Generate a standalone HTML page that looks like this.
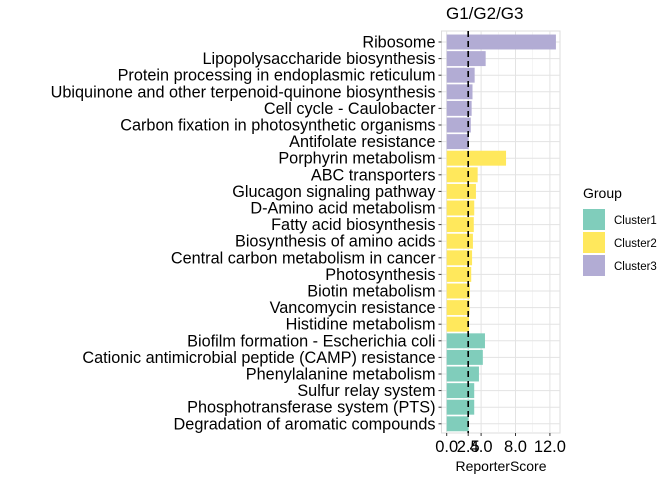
<!DOCTYPE html>
<html><head><meta charset="utf-8"><style>
body{margin:0;background:#fff;font-family:"Liberation Sans",sans-serif}
</style></head><body>
<svg width="672" height="480" xmlns="http://www.w3.org/2000/svg" font-family="Liberation Sans, sans-serif">
<g id="grid"></g>
<g id="bars"></g>
<g id="labels"></g>
<g id="xt"></g>
<text x="446" y="19" font-size="17" fill="#000">G1/G2/G3</text>
<text x="501" y="471" font-size="14" text-anchor="middle" fill="#000">ReporterScore</text>
<g>
<text x="583" y="198" font-size="14">Group</text>
<rect x="583" y="209" width="22" height="21" fill="#80cdbb"/>
<rect x="583" y="232" width="22" height="21" fill="#ffe85c"/>
<rect x="583" y="255" width="22" height="21" fill="#b2acd4"/>
<text x="614" y="224" font-size="11.5">Cluster1</text>
<text x="614" y="247" font-size="11.5">Cluster2</text>
<text x="614" y="270" font-size="11.5">Cluster3</text>
</g>
</svg>
<script>
const categories=["Ribosome","Lipopolysaccharide biosynthesis","Protein processing in endoplasmic reticulum","Ubiquinone and other terpenoid-quinone biosynthesis","Cell cycle - Caulobacter","Carbon fixation in photosynthetic organisms","Antifolate resistance","Porphyrin metabolism","ABC transporters","Glucagon signaling pathway","D-Amino acid metabolism","Fatty acid biosynthesis","Biosynthesis of amino acids","Central carbon metabolism in cancer","Photosynthesis","Biotin metabolism","Vancomycin resistance","Histidine metabolism","Biofilm formation - Escherichia coli","Cationic antimicrobial peptide (CAMP) resistance","Phenylalanine metabolism","Sulfur relay system","Phosphotransferase system (PTS)","Degradation of aromatic compounds"];
const values=[12.7,4.53,3.25,3.0,2.9,2.8,2.55,6.9,3.6,3.4,3.2,3.15,3.05,2.95,2.85,2.7,2.65,2.6,4.45,4.2,3.75,3.2,3.2,2.55];
const groups=["Cluster3","Cluster3","Cluster3","Cluster3","Cluster3","Cluster3","Cluster3","Cluster2","Cluster2","Cluster2","Cluster2","Cluster2","Cluster2","Cluster2","Cluster2","Cluster2","Cluster2","Cluster2","Cluster1","Cluster1","Cluster1","Cluster1","Cluster1","Cluster1"];
const xTicks=[0,2.5,4,8,12];
const xTickLabels=["0.0","2.5","4.0","8.0","12.0"];
const xMinor=[2,6,10];
const threshold=2.5;
const colors={Cluster1:"#80cdbb",Cluster2:"#ffe85c",Cluster3:"#b2acd4"};
const NS="http://www.w3.org/2000/svg";
const L=441.5,R=560,T=31,B=433;
const x=v=>446.7+v*8.6;
const step=16.6;
const y=i=>42+step*i;
function mk(p,t,a){const e=document.createElementNS(NS,t);for(const k in a)e.setAttribute(k,a[k]);document.getElementById(p).appendChild(e);return e;}
mk("grid","rect",{x:L,y:T,width:R-L,height:B-T,fill:"#fff",stroke:"#dcdcdc","stroke-width":1});
xMinor.forEach(v=>{const e=mk("grid","line",{x1:x(v),x2:x(v),y1:T,y2:B,stroke:"#eeeeee","stroke-width":0.6});});
xTicks.forEach((v,i)=>{const e=mk("grid","line",{x1:x(v),x2:x(v),y1:T,y2:B,stroke:"#e3e3e3","stroke-width":1});
const tk=mk("xt","line",{x1:x(v),x2:x(v),y1:B,y2:B+3,stroke:"#333"});
const t=mk("xt","text",{x:x(v),y:B+19,"font-size":16.5,"text-anchor":"middle",fill:"#000"});t.textContent=xTickLabels[i];});
categories.forEach((c,i)=>{const g=mk("grid","line",{x1:L,x2:R,y1:y(i),y2:y(i),stroke:"#e3e3e3","stroke-width":1});
const b=mk("bars","rect",{x:x(0),y:y(i)-step*0.45,width:x(values[i])-x(0),height:step*0.9,fill:colors[groups[i]]});
const tk=mk("labels","line",{x1:L-3,x2:L,y1:y(i),y2:y(i),stroke:"#333"});
const t=mk("labels","text",{x:L-6,y:y(i)+5.5,"font-size":16.25,"text-anchor":"end",fill:"#000"});t.textContent=c;});
const d=mk("bars","line",{x1:x(threshold),x2:x(threshold),y1:T,y2:B,stroke:"#000","stroke-width":1.6,"stroke-dasharray":"6 4"});


</script>
</body></html>
